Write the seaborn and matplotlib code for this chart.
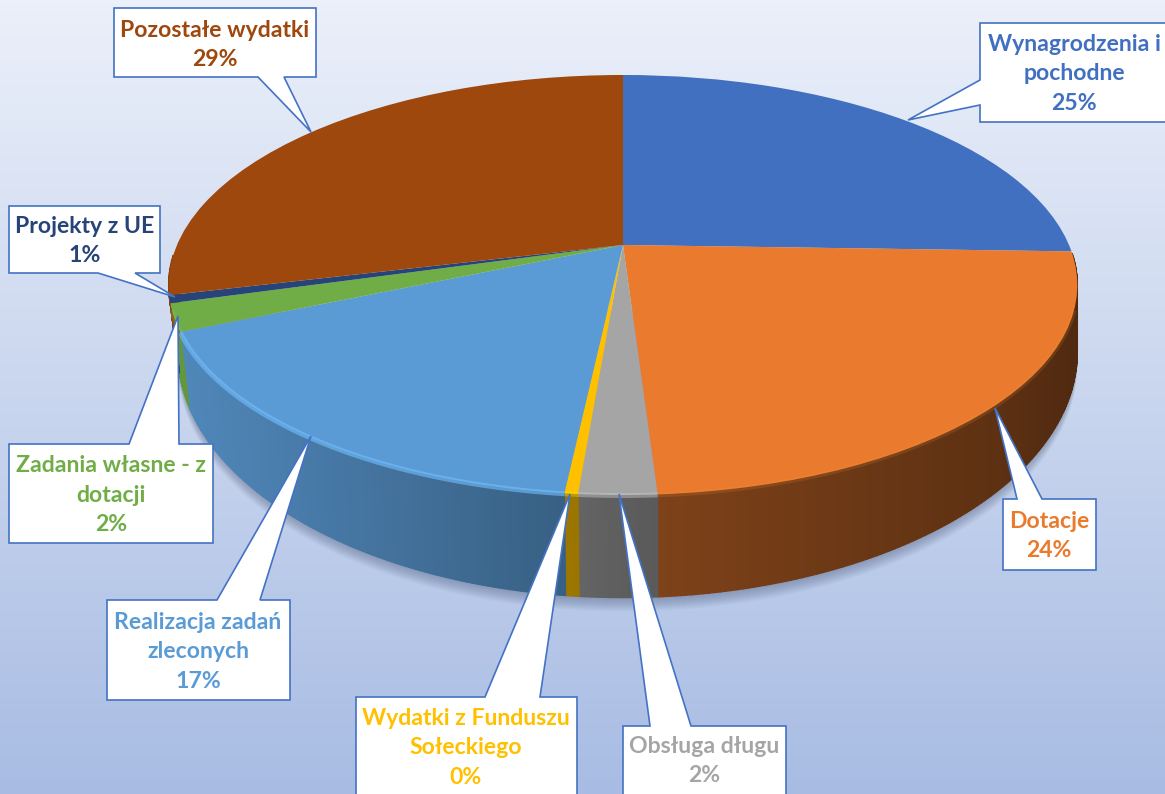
import numpy as np
import matplotlib
matplotlib.use("Agg")
import matplotlib.pyplot as plt
import matplotlib.transforms as mtransforms
import seaborn as sns

categories = [
    "Wynagrodzenia i\npochodne",
    "Dotacje",
    "Obsługa długu",
    "Wydatki z Funduszu\nSołeckiego",
    "Realizacja zadań\nzleconych",
    "Zadania własne - z\ndotacji",
    "Projekty z UE",
    "Pozostałe wydatki",
]
values = [25.5, 23.5, 2.3, 0.4, 16.8, 2.1, 0.6, 28.8]
percent_labels = ["25%", "24%", "2%", "0%", "17%", "2%", "1%", "29%"]
slice_colors = ["#4170c0", "#e97a2e", "#a5a5a5", "#ffc000", "#5b9bd5", "#70ad47", "#264478", "#9e480e"]

W, H = 1165, 794
CX, CY = 623, 245
RX, RY, K = 446, 202.4, 0.1905

# callout outline: box (x0, y0, x1, y1), tail points, text centre
callouts = [
    ((980, 23, 1175, 122), [(980, 80), (908, 120), (980, 105)], (1074, 74)),
    ((1003, 499, 1096, 570), [(1042, 499), (995, 408), (1017, 499)], (1049, 536)),
    ((623, 726, 786, 800), [(691, 726), (619, 494), (650, 726)], (704, 761)),
    ((356, 697, 577, 800), [(540, 697), (570, 494), (485, 697)], (466, 748)),
    ((107, 600, 290, 700), [(260, 600), (311, 436), (217, 600)], (198, 652)),
    ((9, 444, 213, 543), [(179, 444), (178, 316), (129, 444)], (111, 495)),
    ((9, 206, 160, 273), [(135, 273), (175, 297), (98, 273)], (85, 241)),
    ((114, 8, 316, 77), [(284, 77), (311, 132), (258, 77)], (215, 45)),
]
# how strong the light rim is on each slice
rim_strength = [0, 0.15, 0.45, 0.35, 0.6, 0.25, 0, 0]


class Perspective(mtransforms.Transform):
    # tilted disc: unit circle to pixels
    input_dims = 2
    output_dims = 2
    is_separable = False
    has_inverse = False

    def transform_non_affine(self, xy):
        xy = np.asarray(xy, dtype=float)
        w = 1 + K * xy[:, 1]
        return np.column_stack([CX + RX * xy[:, 0] / w, CY - RY * xy[:, 1] / w])


def project(theta):
    u, v = np.cos(np.radians(theta)), np.sin(np.radians(theta))
    w = 1 + K * v
    return CX + RX * u / w, CY - RY * v / w


def lower(x, y):
    # bottom rim of the wall, pulled in a little on the left side only
    scale = np.where(x < CX, 0.98, 1.0)
    return CX + (x - CX) * scale, CY + (y - CY) * 1.17 + 60


def wall_shade(x):
    return np.interp(x, [170, 560, 660, 1000, 1080], [0.88, 0.62, 0.54, 0.40, 0.34])


sns.set_theme(style="white")
plt.rcParams["font.family"] = ["Lato", "DejaVu Sans"]
palette = sns.color_palette(slice_colors)

fig = plt.figure(figsize=(W / 100, H / 100), dpi=100)
ax = fig.add_axes([0, 0, 1, 1])

wedges, _ = ax.pie(values, colors=palette, startangle=90, counterclock=False, radius=1,
                   wedgeprops={"linewidth": 0.3, "edgecolor": "none"})
ax.set_aspect("auto")
ax.set_xlim(0, W)
ax.set_ylim(H, 0)
ax.axis("off")

# background
grad = np.linspace(0, 1, 256)[:, None, None]
top = np.array([235, 240, 250]) / 255
bottom = np.array([168, 188, 227]) / 255
ax.imshow(top + (bottom - top) * grad, extent=[0, W, H, 0], aspect="auto", zorder=0)

# soft shadow under the wall
t = np.linspace(180, 360, 181)
xs, ys = project(t)
xl, yl = lower(xs, ys)
for off in range(1, 15):
    ax.fill(xl, yl + off, color="#1f2d4d", alpha=0.022, lw=0, zorder=1)

# side wall, strip by strip per slice
for w, col in zip(wedges, palette):
    a1, a2 = w.theta1, w.theta2
    n = max(2, int((a2 - a1) / 0.6))
    edges = np.linspace(a1, a2, n + 1)
    for b1, b2 in zip(edges[:-1], edges[1:]):
        if np.sin(np.radians(b1)) > -0.05 and np.sin(np.radians(b2)) > -0.05:
            continue
        x1, y1 = project(np.array([b1, b2]))
        x2, y2 = lower(x1, y1)
        s = wall_shade(x1.mean())
        ax.fill([x1[0], x1[1], x2[1], x2[0]], [y1[0], y1[1], y2[1], y2[0]],
                color=np.array(col) * s, lw=1.0, zorder=2)

# top face
persp = Perspective()
for w in wedges:
    w.set_transform(persp + ax.transData)
    w.set_zorder(3)
    w.set_clip_on(False)

# bevel highlight on the front rim
for w, col, strength in zip(wedges, palette, rim_strength):
    if strength == 0:
        continue
    t = np.linspace(w.theta1, w.theta2, 60)
    t = t[np.sin(np.radians(t)) < -0.3]
    if len(t) < 2:
        continue
    x, y = project(t)
    light = np.clip(np.array(col) * 1.18 + 0.03, 0, 1)
    ax.plot(x, y + 0.5, color=light, lw=3.5, alpha=strength, solid_capstyle="butt", zorder=4)

# callouts
line_col = "#4472c4"
for (box, tail, pos), name, pct, col in zip(callouts, categories, percent_labels, palette):
    x0, y0, x1, y1 = box
    tx, ty = zip(*tail)
    # walk the box outline and splice the tail in on the side it leaves from
    if ty[0] == y0:
        px = [x0] + list(tx[::-1]) + [x1, x1, x0]
        py = [y0] + list(ty[::-1]) + [y0, y1, y1]
    elif ty[0] == y1:
        px = [x0, x1, x1] + list(tx) + [x0]
        py = [y0, y0, y1] + list(ty) + [y1]
    else:
        px = [x0, x1, x1, x0] + list(tx[::-1])
        py = [y0, y0, y1, y1] + list(ty[::-1])
    ax.fill(px, py, facecolor="white", edgecolor=line_col, lw=1.2, zorder=6, joinstyle="miter")
    ax.text(pos[0], pos[1], name + "\n" + pct, color=col, ha="center", va="center",
            fontsize=16.6, fontweight="bold", linespacing=1.5, zorder=7)

ax.set_xlim(0, W)
ax.set_ylim(H, 0)
fig.savefig("out.png", dpi=100)
